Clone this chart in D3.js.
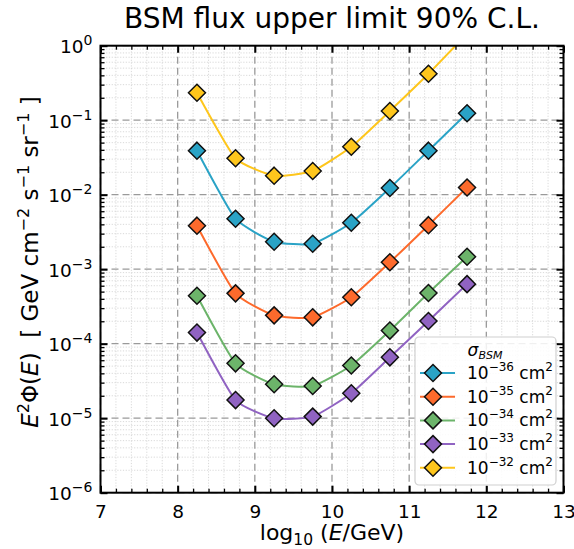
<!DOCTYPE html>
<html>
<head>
<meta charset="utf-8">
<script src="https://cdn.jsdelivr.net/npm/d3@7"></script>
<style>
  html, body { margin: 0; padding: 0; background: #fff; }
  svg text { font-family: "DejaVu Sans", sans-serif; fill: #000; white-space: pre; }
</style>
</head>
<body>
<svg id="chart" width="574" height="549"></svg>
<script>
// log10(E/GeV) bin centres
const energies = [8.25, 8.75, 9.25, 9.75, 10.25, 10.75, 11.25, 11.75];

// E^2 Phi(E) upper limits [GeV cm^-2 s^-1 sr^-1] for each cross section
const sigma36 = [0.039, 0.00476, 0.00234, 0.0022, 0.0042, 0.0123, 0.039, 0.124];
const sigma35 = [0.00384, 4.74e-4, 2.40e-4, 2.26e-4, 4.2e-4, 1.24e-3, 0.0039, 0.0125];
const sigma34 = [4.4e-4, 5.45e-5, 2.85e-5, 2.7e-5, 5.1e-5, 1.5e-4, 4.8e-4, 1.47e-3];
const sigma33 = [1.41e-4, 1.75e-5, 9.97e-6, 1.05e-5, 2.16e-5, 6.56e-5, 2.02e-4, 6.3e-4];
const sigma32 = [0.234, 0.0308, 0.018, 0.0208, 0.044, 0.133, 0.42, 1.45];

const seriesExponents = ["−36", "−35", "−34", "−33", "−32"];
const seriesValues = [sigma36, sigma35, sigma34, sigma33, sigma32];
const seriesColors = ["#2aa3c6", "#fd6a2c", "#6cb46a", "#9063c2", "#fec61c"];

const xTicks = [7, 8, 9, 10, 11, 12, 13];
const yTickExponents = [0, -1, -2, -3, -4, -5, -6];

const titleText = "BSM flux upper limit 90% C.L.";

const svg = d3.select("#chart");
const L = 100.5, R = 563.5, T = 45.7, B = 492.7;

const x = d3.scaleLinear().domain([7, 13]).range([L, R]);
const y = d3.scaleLog().domain([1e-6, 1]).range([B, T]);

// minor positions
const xMinor = d3.range(7, 13.001, 0.2).map(v => +v.toFixed(1)).filter(v => !xTicks.includes(v));
const yMinor = [];
for (let e = -6; e < 0; e++) for (let k = 2; k <= 9; k++) yMinor.push(k * Math.pow(10, e));
const yMajor = yTickExponents.map(e => Math.pow(10, e));

// grid
const grid = svg.append("g");
grid.selectAll(".gxm").data(xMinor).join("line")
  .attr("x1", d => x(d)).attr("x2", d => x(d)).attr("y1", T).attr("y2", B)
  .attr("stroke", "#cfcfcf").attr("stroke-width", 0.8).attr("stroke-dasharray", "1.2,1.6");
grid.selectAll(".gym").data(yMinor).join("line")
  .attr("y1", d => y(d)).attr("y2", d => y(d)).attr("x1", L).attr("x2", R)
  .attr("stroke", "#cfcfcf").attr("stroke-width", 0.8).attr("stroke-dasharray", "1.2,1.6");
grid.selectAll(".gxM").data(xTicks).join("line")
  .attr("x1", d => x(d)).attr("x2", d => x(d)).attr("y1", T).attr("y2", B)
  .attr("stroke", "#9a9a9a").attr("stroke-width", 1.3).attr("stroke-dasharray", "7,4");
grid.selectAll(".gyM").data(yMajor).join("line")
  .attr("y1", d => y(d)).attr("y2", d => y(d)).attr("x1", L).attr("x2", R)
  .attr("stroke", "#9a9a9a").attr("stroke-width", 1.3).attr("stroke-dasharray", "7,4");

// data
svg.append("defs").append("clipPath").attr("id", "plotclip")
  .append("rect").attr("x", L).attr("y", T).attr("width", R - L).attr("height", B - T);

const plot = svg.append("g").attr("clip-path", "url(#plotclip)");
const line = d3.line().x(d => x(d[0])).y(d => y(d[1])).curve(d3.curveCardinal.tension(0.5));
const diamond = h => `M0,${-h}L${h},0L0,${h}L${-h},0Z`;

seriesValues.forEach((vals, i) => {
  const pts = energies.map((e, j) => [e, vals[j]]);
  plot.append("path").datum(pts).attr("d", line)
    .attr("fill", "none").attr("stroke", seriesColors[i]).attr("stroke-width", 2);
  plot.selectAll(null).data(pts).join("path")
    .attr("d", diamond(8.5))
    .attr("transform", d => `translate(${x(d[0])},${y(d[1])})`)
    .attr("fill", seriesColors[i]).attr("stroke", "#111").attr("stroke-width", 1.5);
});

// axes with inward ticks on all four sides
function styleAxis(g) {
  g.select(".domain").remove();
  g.selectAll(".tick line").attr("stroke", "#000").attr("stroke-width", 1.3);
}
svg.append("g").attr("transform", `translate(0,${B})`)
  .call(d3.axisBottom(x).tickValues(xMinor).tickSize(-4).tickFormat("")).call(styleAxis);
svg.append("g").attr("transform", `translate(0,${T})`)
  .call(d3.axisTop(x).tickValues(xMinor).tickSize(-4).tickFormat("")).call(styleAxis);
svg.append("g").attr("transform", `translate(${L},0)`)
  .call(d3.axisLeft(y).tickValues(yMinor).tickSize(-4).tickFormat("")).call(styleAxis);
svg.append("g").attr("transform", `translate(${R},0)`)
  .call(d3.axisRight(y).tickValues(yMinor).tickSize(-4).tickFormat("")).call(styleAxis);

const xb = svg.append("g").attr("transform", `translate(0,${B})`)
  .call(d3.axisBottom(x).tickValues(xTicks).tickSize(-7).tickPadding(12).tickFormat(d3.format("d")))
  .call(styleAxis);
xb.selectAll(".tick line").attr("stroke-width", 2);
xb.selectAll(".tick text").attr("font-size", 18.5).attr("font-family", "DejaVu Sans").attr("fill", "#000");
svg.append("g").attr("transform", `translate(0,${T})`)
  .call(d3.axisTop(x).tickValues(xTicks).tickSize(-7).tickFormat("")).call(styleAxis)
  .selectAll(".tick line").attr("stroke-width", 2);
svg.append("g").attr("transform", `translate(${R},0)`)
  .call(d3.axisRight(y).tickValues(yMajor).tickSize(-7).tickFormat("")).call(styleAxis)
  .selectAll(".tick line").attr("stroke-width", 2);

const yl = svg.append("g").attr("transform", `translate(${L},0)`)
  .call(d3.axisLeft(y).tickValues(yMajor).tickSize(-7).tickFormat("")).call(styleAxis);
yl.selectAll(".tick line").attr("stroke-width", 2);
yl.selectAll(".tick").each(function(d) {
  const e = Math.round(Math.log10(d));
  const t = d3.select(this).append("text")
    .attr("x", -8).attr("y", 7).attr("text-anchor", "end")
    .attr("font-size", 18.5).attr("font-family", "DejaVu Sans").attr("fill", "#000");
  t.append("tspan").text("10");
  t.append("tspan").attr("dy", -8).attr("font-size", 14).text(e < 0 ? "−" + (-e) : String(e));
});

// frame
svg.append("rect").attr("x", L).attr("y", T).attr("width", R - L).attr("height", B - T)
  .attr("fill", "none").attr("stroke", "#000").attr("stroke-width", 2);

// title
svg.append("text").attr("x", (L + R) / 2).attr("y", 28).attr("text-anchor", "middle")
  .attr("font-size", 28).text(titleText);

// x label
const xlab = svg.append("text").attr("x", (L + R) / 2).attr("y", 540).attr("text-anchor", "middle")
  .attr("font-size", 22);
xlab.append("tspan").text("log");
xlab.append("tspan").attr("font-size", 15.5).attr("dy", 5).text("10");
xlab.append("tspan").attr("dy", -5).text(" (");
xlab.append("tspan").attr("font-style", "italic").text("E");
xlab.append("tspan").text("/GeV)");

// y label
const ylab = svg.append("text").attr("transform", "translate(38,262) rotate(-90)")
  .attr("text-anchor", "middle").attr("font-size", 23);
ylab.append("tspan").attr("font-style", "italic").text("E");
ylab.append("tspan").attr("font-size", 16).attr("dy", -9).text("2");
ylab.append("tspan").attr("dy", 9).text("Φ(");
ylab.append("tspan").attr("font-style", "italic").text("E");
ylab.append("tspan").text(")  [ GeV cm");
ylab.append("tspan").attr("font-size", 16).attr("dy", -9).text("−2");
ylab.append("tspan").attr("dy", 9).text(" s");
ylab.append("tspan").attr("font-size", 16).attr("dy", -9).text("−1");
ylab.append("tspan").attr("dy", 9).text(" sr");
ylab.append("tspan").attr("font-size", 16).attr("dy", -9).text("−1");
ylab.append("tspan").attr("dy", 9).text(" ]");

// legend
const lg = svg.append("g").attr("transform", "translate(415,337)");
lg.append("rect").attr("width", 141).attr("height", 148).attr("rx", 4)
  .attr("fill", "#fff").attr("fill-opacity", 0.85).attr("stroke", "#d0d0d0").attr("stroke-width", 1.2);
const lt = lg.append("text").attr("x", 70).attr("y", 19).attr("text-anchor", "middle").attr("font-size", 17);
lt.append("tspan").attr("font-style", "italic").text("σ");
lt.append("tspan").attr("font-style", "italic").attr("font-size", 11).attr("dy", 3).text("BSM");

seriesExponents.forEach((ex, i) => {
  const cy = 36 + i * 23.7;
  const row = lg.append("g").attr("transform", `translate(0,${cy})`);
  row.append("line").attr("x1", 5).attr("x2", 40).attr("stroke", seriesColors[i]).attr("stroke-width", 2);
  row.append("path").attr("d", diamond(8.5)).attr("transform", "translate(18,0)")
    .attr("fill", seriesColors[i]).attr("stroke", "#111").attr("stroke-width", 1.5);
  const tx = row.append("text").attr("x", 52).attr("y", 6).attr("font-size", 17);
  tx.append("tspan").text("10");
  tx.append("tspan").attr("font-size", 12).attr("dy", -8).text(ex);
  tx.append("tspan").attr("dy", 8).text(" cm");
  tx.append("tspan").attr("font-size", 12).attr("dy", -8).text("2");
});
</script>
</body>
</html>
